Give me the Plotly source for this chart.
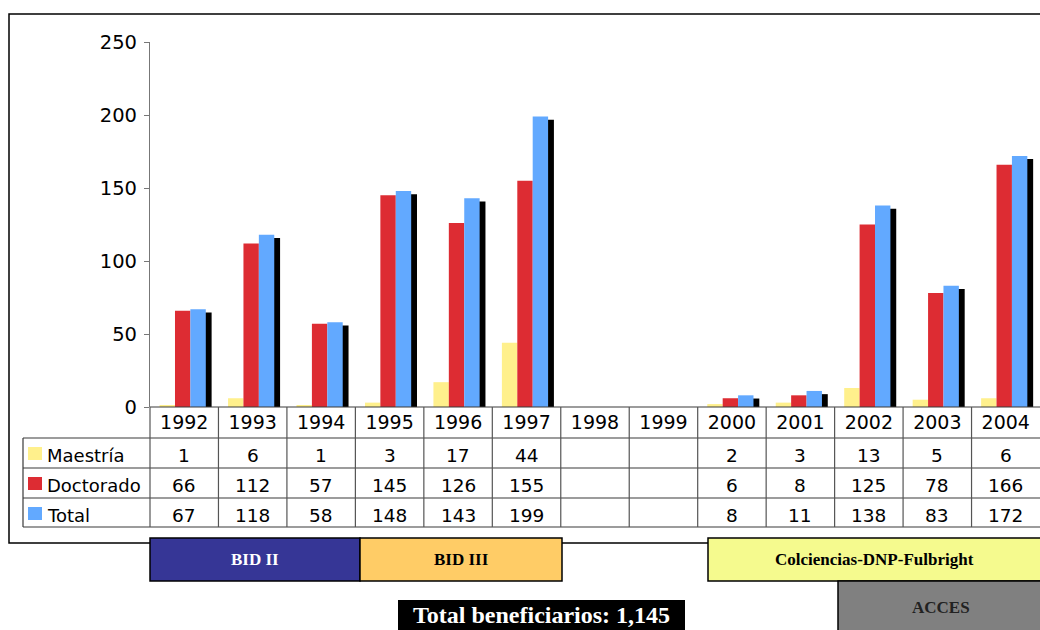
import plotly.graph_objects as go

years = ["1992", "1993", "1994", "1995", "1996", "1997", "1998", "1999",
         "2000", "2001", "2002", "2003", "2004"]
maestria = [1, 6, 1, 3, 17, 44, None, None, 2, 3, 13, 5, 6]
doctorado = [66, 112, 57, 145, 126, 155, None, None, 6, 8, 125, 78, 166]
total = [67, 118, 58, 148, 143, 199, None, None, 8, 11, 138, 83, 172]
series_names = ["Maestría", "Doctorado", "Total"]
series_colors = ["#FFF08C", "#DD2C33", "#62A9FF"]
y_ticks = [0, 50, 100, 150, 200, 250]
programs = [("BID II", 150, 360, 538, 581, "#363696", "white"),
            ("BID III", 360, 562, 538, 581, "#FFCC66", "black"),
            ("Colciencias-DNP-Fulbright", 708, 1046, 538, 581, "#F5FA8E", "black"),
            ("ACCES", 838, 1046, 581, 640, "#808080", "#222222")]
total_label = "Total beneficiarios: 1,145"

W, H = 1040, 630
def px(x):
    return x / W
def py(y):
    return 1 - y / H

X0, X1 = 150, 1040
n = len(years)
colw = (X1 - X0) / n
xs = list(range(n))

fig = go.Figure()
bw = 0.225
# shadow of total series
fig.add_trace(go.Bar(x=xs, y=total, base=-2.2, offset=0.09 + 0.085, width=bw,
                     marker=dict(color="black", line=dict(width=0)), showlegend=False))
for vals, off, col in zip([maestria, doctorado, total], [-0.36, -0.135, 0.09], series_colors):
    fig.add_trace(go.Bar(x=xs, y=vals, offset=off, width=bw,
                         marker=dict(color=col, line=dict(width=0)), showlegend=False))

shapes = []
annotations = []
# outer frame
shapes.append(dict(type="rect", xref="paper", yref="paper", x0=px(9), x1=px(1050),
                   y0=py(543), y1=py(14), line=dict(color="black", width=1.5)))

line_col = "#3a3a3a"
shapes.append(dict(type="line", xref="paper", yref="paper", x0=px(150), x1=px(1045),
                   y0=py(407), y1=py(407), line=dict(color=line_col, width=1.2)))
for yy in [438, 468, 498, 527]:
    shapes.append(dict(type="line", xref="paper", yref="paper", x0=px(23), x1=px(1045),
                       y0=py(yy), y1=py(yy), line=dict(color=line_col, width=1.2)))
shapes.append(dict(type="line", xref="paper", yref="paper", x0=px(23), x1=px(23),
                   y0=py(438), y1=py(527), line=dict(color=line_col, width=1.2)))
for k in range(n):
    xx = X0 + k * colw
    shapes.append(dict(type="line", xref="paper", yref="paper", x0=px(xx), x1=px(xx),
                       y0=py(407), y1=py(527), line=dict(color="#555555", width=1.2)))

font_main = "DejaVu Sans, Verdana, sans-serif"
row_y = [455, 485, 515]
for name, col, ry, vals in zip(series_names, series_colors, row_y,
                               [maestria, doctorado, total]):
    shapes.append(dict(type="rect", xref="paper", yref="paper", x0=px(28), x1=px(42),
                       y0=py(ry + 5), y1=py(ry - 8), fillcolor=col, line=dict(width=0)))
    annotations.append(dict(text=name, xref="paper", yref="paper", x=px(45), y=py(ry),
                            xanchor="left", yanchor="middle", showarrow=False,
                            font=dict(family=font_main, size=18, color="black")))
    for i, v in enumerate(vals):
        if v is None:
            continue
        annotations.append(dict(text=str(v), xref="x", yref="paper", x=i, y=py(ry),
                                xanchor="center", yanchor="middle", showarrow=False,
                                font=dict(family=font_main, size=18.5, color="black")))

serif = "Liberation Serif, Times New Roman, serif"
for label, x0, x1, y0, y1, fill, tcol in programs:
    shapes.append(dict(type="rect", xref="paper", yref="paper", x0=px(x0), x1=px(x1),
                       y0=py(y1), y1=py(y0), fillcolor=fill, line=dict(color="black", width=1.5)))
    cy = (y0 + y1) / 2 if label != "ACCES" else 607
    cx = 941 if label == "ACCES" else ((x0 + x1) / 2 - (3 if x1 > 1040 else 0))
    annotations.append(dict(text="<b>%s</b>" % label, xref="paper", yref="paper",
                            x=px(cx), y=py(cy), xanchor="center", yanchor="middle",
                            showarrow=False, font=dict(family=serif, size=17, color=tcol)))

shapes.append(dict(type="rect", xref="paper", yref="paper", x0=px(398), x1=px(685),
                   y0=py(640), y1=py(600), fillcolor="black", line=dict(width=0)))
annotations.append(dict(text="<b>%s</b>" % total_label, xref="paper", yref="paper",
                        x=px(541), y=py(615), xanchor="center", yanchor="middle",
                        showarrow=False, font=dict(family=serif, size=24, color="white")))

fig.update_layout(
    width=W, height=H, margin=dict(l=0, r=0, t=0, b=0, pad=0, autoexpand=False),
    paper_bgcolor="white", plot_bgcolor="white",
    barmode="overlay", showlegend=False,
    shapes=shapes, annotations=annotations,
    xaxis=dict(domain=[px(X0), px(X1)], range=[-0.5, n - 0.5], automargin=False,
               tickvals=xs, ticktext=years, showgrid=False, zeroline=False,
               showline=False, ticks="", ticklabelstandoff=2,
               tickfont=dict(family=font_main, size=19, color="black")),
    yaxis=dict(domain=[py(407), py(42)], range=[0, 250], tickvals=y_ticks, automargin=False,
               showgrid=False, zeroline=False, showline=True, linecolor="#777777",
               linewidth=1.2, ticks="outside", ticklen=5, tickcolor="#777777",
               ticklabelstandoff=3,
               tickfont=dict(family=font_main, size=19.5, color="black")),
    font=dict(family=font_main),
)

post = ("var gd=document.getElementById('{plot_id}');"
        "gd.style.position='fixed';gd.style.top='0px';gd.style.left='0px';"
        "document.body.style.margin='0';document.body.style.overflow='hidden';")
fig.write_html("out.html", config={"responsive": False, "displayModeBar": False},
               post_script=post)
